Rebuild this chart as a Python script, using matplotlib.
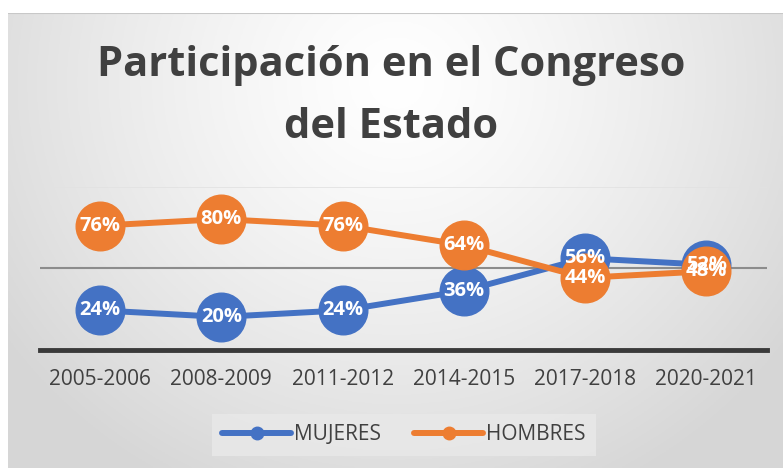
import numpy as np
import matplotlib
matplotlib.use("Agg")
import matplotlib.pyplot as plt
from matplotlib.lines import Line2D

categories = ["2005-2006", "2008-2009", "2011-2012", "2014-2015", "2017-2018", "2020-2021"]
mujeres = [24, 20, 24, 36, 56, 52]
hombres = [76, 80, 76, 64, 44, 48]
title = "Participación en el Congreso\ndel Estado"

BLUE = "#4472C4"
ORANGE = "#ED7D31"
TXT = "#404040"
FONT = ["Open Sans", "DejaVu Sans"]

W, H = 783, 468
fig = plt.figure(figsize=(W / 100, H / 100), dpi=100)
fig.patch.set_facecolor("white")

# gradient panel
px0, py0 = 8, 13
bg = fig.add_axes([px0 / W, 0, 1 - px0 / W, 1 - py0 / H])
bg.set_axis_off()
ny, nx = 200, 300
yy, xx = np.mgrid[0:ny, 0:nx]
cx, cy = nx * 0.5, ny * 0.15
r = np.sqrt(((xx - cx) / (nx * 0.62)) ** 2 + ((yy - cy) / (ny * 1.0)) ** 2)
r = np.clip(r, 0, 1)
v = 1.0 - 0.16 * r ** 1.3
img = np.dstack([v, v, v])
bg.imshow(img, aspect="auto", extent=[0, 1, 0, 1], origin="upper")
bg.plot([0, 1], [1, 1], color="#c8c8c8", lw=1.5, transform=bg.transAxes)

# main axes
x0, x1 = 39.5, 767
y0, y1 = 349.5, 186.5
ax = fig.add_axes([x0 / W, (H - y0) / H, (x1 - x0) / W, (y0 - y1) / H])
ax.patch.set_alpha(0)
ax.set_xlim(-0.5, len(categories) - 0.5)
ax.set_ylim(0, 100)
for s in ax.spines.values():
    s.set_visible(False)
ax.set_yticks([])
ax.axhline(100, color="#e2e2e2", lw=1.2, zorder=1)
ax.axhline(50, color="#8c8c8c", lw=1.5, zorder=1)
ax.axhline(0, color="#3a3a3a", lw=3.5, zorder=1, clip_on=False)

xs = np.arange(len(categories))
ax.plot(xs, mujeres, color=BLUE, lw=4.3, marker="o", ms=35, mec=BLUE, zorder=3,
        solid_capstyle="round")
ax.plot(xs, hombres, color=ORANGE, lw=4.3, marker="o", ms=35, mec=ORANGE, zorder=4,
        solid_capstyle="round")
for xi, v1 in zip(xs, mujeres):
    ax.text(xi, v1, f"{v1}%", color="white", ha="center", va="center", fontsize=14.5,
            fontweight="bold", family=FONT, zorder=5)
for xi, v2 in zip(xs, hombres):
    ax.text(xi, v2, f"{v2}%", color="white", ha="center", va="center", fontsize=14.5,
            fontweight="bold", family=FONT, zorder=6)

ax.set_xticks(xs)
ax.set_xticklabels(categories, fontsize=15, color=TXT, family=FONT)
ax.tick_params(axis="x", length=0, pad=14)

fig.text(0.5, 1 - 65 / H, title.split("\n")[0], ha="center", va="center",
         fontsize=30, fontweight="bold", color=TXT, family=FONT)
fig.text(0.5, 1 - 128 / H, title.split("\n")[1], ha="center", va="center",
         fontsize=30, fontweight="bold", color=TXT, family=FONT)

# legend
handles = [Line2D([0], [0], color=BLUE, lw=4.3, marker="o", ms=9, solid_capstyle="round"),
           Line2D([0], [0], color=ORANGE, lw=4.3, marker="o", ms=9, solid_capstyle="round")]
leg = fig.legend(handles, ["MUJERES", "HOMBRES"], loc="center",
                 bbox_to_anchor=(404 / W, 1 - 435 / H), ncol=2, frameon=True,
                 fancybox=False, handlelength=3.3, handletextpad=0.15, columnspacing=1.6,
                 prop={"family": FONT, "size": 15}, borderpad=0.5, borderaxespad=0)
leg.get_frame().set_facecolor("#e9e9e9")
leg.get_frame().set_edgecolor("none")
leg.get_frame().set_alpha(0.8)
for t in leg.get_texts():
    t.set_color(TXT)

fig.savefig("out.png", dpi=100)
